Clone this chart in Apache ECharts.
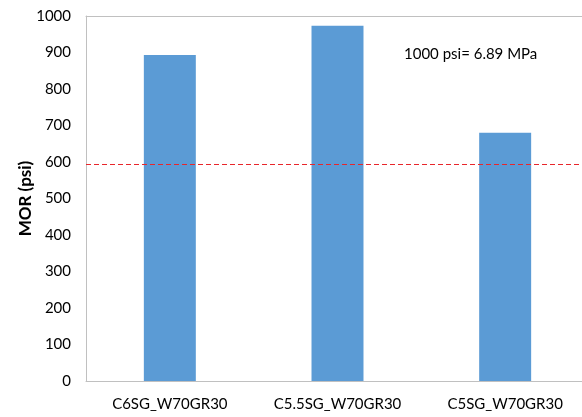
<!DOCTYPE html>
<html>
<head>
<meta charset="utf-8">
<script src="https://cdn.jsdelivr.net/npm/echarts@6/dist/echarts.min.js"></script>
<style>
  html, body { margin: 0; padding: 0; background: #fff; }
  #chart { width: 582px; height: 417px; }
</style>
</head>
<body>
<div id="chart"></div>
<script>
  // 数据
  var categories = ['C6SG_W70GR30', 'C5.5SG_W70GR30', 'C5SG_W70GR30']
  var morValues = [893, 973, 680]
  var limitLine = 595
  var yTicks = [0, 1000, 100]   // min, max, interval
  var noteText = '1000 psi= 6.89 MPa'

  var myChart = echarts.init(document.getElementById('chart'))
  var font = 'Lato, "Open Sans", sans-serif'
  var gray = '#c0c0c0'

  var option = {
    animation: false,
    textStyle: { fontFamily: font },
    grid: {
      left: 86,
      top: 16,
      width: 503,
      height: 365,
      outerBoundsMode: 'none'
    },
    xAxis: [
      {
        type: 'category',
        data: categories,
        axisTick: { show: false },
        axisLine: { lineStyle: { color: gray, width: 1 } },
        axisLabel: { color: '#000', fontSize: 15, margin: 16, interval: 0, fontFamily: font }
      },
      {
        // 顶部边框线
        type: 'category',
        position: 'top',
        data: categories,
        axisTick: { show: false },
        axisLabel: { show: false },
        axisLine: { show: true, lineStyle: { color: gray, width: 1 } }
      }
    ],
    yAxis: {
      type: 'value',
      min: yTicks[0],
      max: yTicks[1],
      interval: yTicks[2],
      name: 'MOR (psi)',
      nameLocation: 'middle',
      nameGap: 52,
      nameMoveOverlap: false,
      nameTextStyle: { color: '#000', fontSize: 17, fontWeight: 'bold', fontFamily: font },
      splitLine: { show: false },
      axisLine: { show: true, lineStyle: { color: gray } },
      axisTick: { show: false },
      axisLabel: {
        color: '#000', fontSize: 15, margin: 15, fontFamily: font,
        formatter: function (v) { return String(v) }
      }
    },
    series: [
      {
        type: 'bar',
        data: morValues,
        barWidth: '31%',
        color: '#5b9bd5',
        markLine: {
          symbol: 'none',
          silent: true,
          label: { show: false },
          lineStyle: { color: '#e8262b', type: [5, 3], width: 1.2 },
          data: [{ yAxis: limitLine }]
        }
      }
    ],
    graphic: [
      {
        type: 'text',
        left: 404,
        top: 47,
        style: { text: noteText, fill: '#000', fontSize: 15, fontFamily: font }
      }
    ]
  }
  myChart.setOption(option, true)
</script>
</body>
</html>
